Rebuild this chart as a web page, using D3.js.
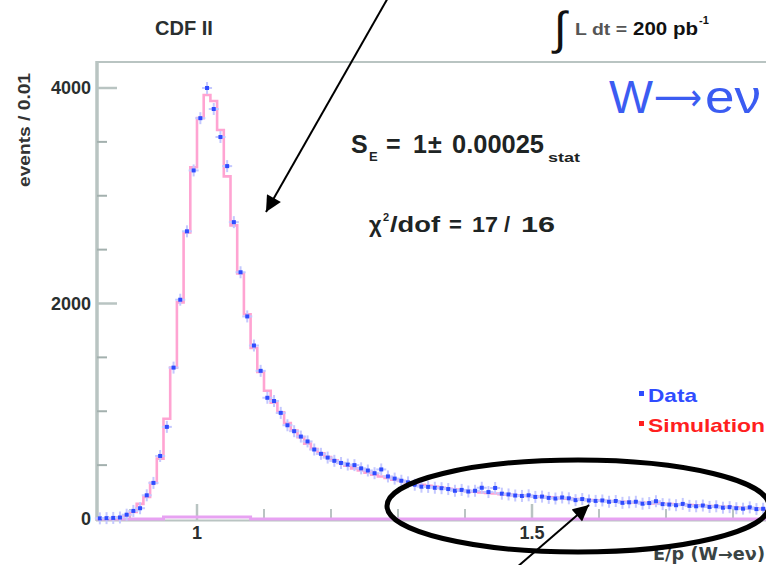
<!DOCTYPE html>
<html><head><meta charset="utf-8">
<script src="https://cdn.jsdelivr.net/npm/d3@7"></script>
<style>body{margin:0;background:#fff}svg{display:block}</style>
</head><body><svg id="c" width="766" height="565"></svg>
<script>
// ---- data ----
const binLow = [0.85,0.86,0.87,0.88,0.89,0.90,0.91,0.92,0.93,0.94,
  0.95,0.96,0.97,0.98,0.99,1.00,1.01,1.02,1.03,1.04,
  1.05,1.06,1.07,1.08,1.09,1.10,1.11,1.12,1.13,1.14,
  1.15,1.16,1.17,1.18,1.19,1.20,1.21,1.22,1.23,1.24,
  1.25,1.26,1.27,1.28,1.29,1.30,1.31,1.32,1.33,1.34,
  1.35,1.36,1.37,1.38,1.39,1.40,1.41,1.42,1.43,1.44,
  1.45,1.46,1.47,1.48,1.49,1.50,1.51,1.52,1.53,1.54,
  1.55,1.56,1.57,1.58,1.59,1.60,1.61,1.62,1.63,1.64,
  1.65,1.66,1.67,1.68,1.69,1.70,1.71,1.72,1.73,1.74,
  1.75,1.76,1.77,1.78,1.79,1.80,1.81,1.82,1.83,1.84];
const binWidth = 0.01;
const dataCounts = [6,8,10,14,40,75,100,220,335,585,
  855,1405,2035,2670,3235,3720,4000,3805,3545,3275,
  2755,2290,1880,1610,1375,1125,1095,985,870,815,
  765,720,645,605,570,540,520,505,500,470,
  450,425,460,395,375,355,340,318,300,298,
  290,286,278,262,270,255,262,290,250,288,
  235,228,218,214,220,205,208,196,190,200,
  192,175,185,172,168,172,160,167,150,155,
  160,142,148,165,138,134,128,140,122,118,
  125,112,118,105,110,100,96,108,92,95];
const simCounts = [5,6,8,14,35,65,140,205,335,560,
  930,1405,2010,2660,3265,3720,3935,3880,3610,3180,
  2725,2280,1900,1587,1365,1190,1080,990,890,820,
  760,700,650,610,575,545,520,495,470,450,
  430,412,395,380,365,352,340,328,317,307,
  298,289,281,273,266,259,253,247,241,236,
  231,226,221,217,213,209,205,201,197,193,
  189,185,181,177,174,170,167,164,160,157,
  154,151,148,145,142,138,135,132,129,126,
  123,120,117,114,111,106,103,100,96,92];
const bkgCounts = [0,0,0,0,0,0,0,0,0,0,
  18,18,18,18,18,18,18,18,18,18,
  18,18,18,0,0,0,0,0,0,0,
  0,0,0,0,0,0,0,0,0,0,
  0,0,0,0,0,0,0,0,0,0,
  0,0,0,0,0,0,0,0,0,0,
  0,0,0,0,0,0,0,0,0,0,
  0,0,0,0,0,0,0,0,0,0,
  0,0,0,0,0,0,0,0,0,0,
  0,0,0,0,0,0,0,0,0,0];
const yTicksMajor = [0, 2000, 4000];
const yTickLabels = ["0", "2000", "4000"];
const yTicksMinor = [500, 1000, 1500, 2500, 3000, 3500];
const xTicksMajor = [1, 1.5];
const xTickLabels = ["1", "1.5"];
const xTicksMinor = [0.9, 1.1, 1.2, 1.3, 1.4, 1.6, 1.7, 1.8];
const legendItems = ["Data", "Simulation"];

// ---- drawing ----
const svg = d3.select("#c");
const FONT = "'Liberation Sans', Arial, sans-serif";
const x = d3.scaleLinear().domain([0.85, 1.85]).range([96.5, 766.5]);
const y = d3.scaleLinear().domain([0, 4000]).range([519, 88]);
const axisCol = "#b9c4c2";

function txt(xp, yp, s, size, opts = {}) {
  const t = svg.append("text").attr("x", xp).attr("y", yp)
    .attr("font-family", opts.family || FONT)
    .attr("font-weight", opts.weight || "bold")
    .attr("font-size", size).attr("fill", opts.fill || "#1e2424");
  if (opts.anchor) t.attr("text-anchor", opts.anchor);
  if (opts.len) t.attr("textLength", opts.len).attr("lengthAdjust", "spacingAndGlyphs");
  t.text(s);
  return t;
}

// frame
svg.append("line").attr("x1", 96).attr("x2", 766).attr("y1", 62).attr("y2", 62)
  .attr("stroke", axisCol).attr("stroke-width", 2);
svg.append("line").attr("x1", 97).attr("x2", 97).attr("y1", 61).attr("y2", 521)
  .attr("stroke", axisCol).attr("stroke-width", 3.5);
svg.append("line").attr("x1", 96).attr("x2", 766).attr("y1", 520.5).attr("y2", 520.5)
  .attr("stroke", axisCol).attr("stroke-width", 2);

// y ticks
yTicksMajor.forEach(v => svg.append("line").attr("x1", 97).attr("x2", 117)
  .attr("y1", y(v)).attr("y2", y(v)).attr("stroke", axisCol).attr("stroke-width", 2.5));
yTicksMinor.forEach(v => svg.append("line").attr("x1", 97).attr("x2", 107)
  .attr("y1", y(v)).attr("y2", y(v)).attr("stroke", "#a3b0ae").attr("stroke-width", 2));
yTicksMajor.forEach((v, i) => txt(91, y(v) + 6, yTickLabels[i], 18, {anchor: "end", fill: "#2a2f2f"}));
// x ticks
xTicksMajor.forEach(v => svg.append("line").attr("x1", x(v)).attr("x2", x(v))
  .attr("y1", 504).attr("y2", 520).attr("stroke", axisCol).attr("stroke-width", 2.5));
xTicksMinor.forEach(v => svg.append("line").attr("x1", x(v)).attr("x2", x(v))
  .attr("y1", 509).attr("y2", 520).attr("stroke", axisCol).attr("stroke-width", 2));
xTicksMajor.forEach((v, i) => txt(x(v), 539, xTickLabels[i], 18, {anchor: "middle", fill: "#2a2f2f"}));

// axis titles
svg.append("text").attr("transform", "translate(30,73) rotate(-90)")
  .attr("text-anchor", "end").attr("font-family", FONT).attr("font-weight", "bold")
  .attr("font-size", 16).attr("fill", "#333").attr("textLength", 114)
  .attr("lengthAdjust", "spacingAndGlyphs").text("events / 0.01");
txt(653, 560, "E/p (W\u2192e\u03bd)", 17, {fill: "#3a4444", len: 112, family: "'DejaVu Sans', sans-serif"});

// histogram helpers
const stepPts = counts => {
  const pts = binLow.map((b, i) => [b, counts[i]]);
  pts.push([binLow[binLow.length - 1] + binWidth, counts[counts.length - 1]]);
  return pts;
};
const stepLine = d3.line().x(d => x(d[0])).y(d => y(d[1])).curve(d3.curveStepAfter);

// background component
svg.append("path").attr("d", stepLine(stepPts(bkgCounts))).attr("fill", "none")
  .attr("stroke", "#e7a2f2").attr("stroke-width", 3);

// simulation
svg.append("path").attr("d", stepLine(stepPts(simCounts))).attr("fill", "none")
  .attr("stroke", "#ffa4d2").attr("stroke-width", 2.6);

// data points
const pts = svg.append("g");
binLow.forEach((b, i) => {
  const cx = x(b + binWidth / 2), cy = y(dataCounts[i]);
  pts.append("line").attr("x1", cx - 5).attr("x2", cx + 5).attr("y1", cy).attr("y2", cy)
    .attr("stroke", "#c4c8ff").attr("stroke-width", 2);
  pts.append("line").attr("x1", cx).attr("x2", cx).attr("y1", cy - 6).attr("y2", cy + 6)
    .attr("stroke", "#c4c8ff").attr("stroke-width", 2);
  pts.append("rect").attr("x", cx - 2).attr("y", cy - 2).attr("width", 4).attr("height", 4)
    .attr("fill", "#2f4cff");
});

// header texts
txt(155, 35, "CDF II", 20, {fill: "#2a2f2f"});
txt(554, 44, "\u222b", 46, {weight: "normal", fill: "#111"});
txt(575, 35, "L dt =", 16, {fill: "#555", len: 52});
txt(633, 35, "200 pb", 18, {fill: "#111", len: 65});
txt(699, 24, "-1", 11, {fill: "#111"});

txt(609, 113, "W", 46, {weight: "normal", fill: "#3b5cf2", len: 44});
txt(654, 110, "\u27f6", 38, {weight: "normal", fill: "#3b5cf2", len: 48, family: "'DejaVu Sans', sans-serif"});
txt(705, 113, "e\u03bd", 46, {weight: "normal", fill: "#3b5cf2", len: 56});

// S_E
txt(351, 153, "S", 25);
txt(369, 161, "E", 13);
txt(386, 153, "=", 25);
txt(413, 153, "1", 25);
txt(428, 153, "\u00b1", 25);
txt(452, 153, "0.00025", 25, {len: 92});
txt(548, 162, "stat", 13, {len: 32});

// chi2
txt(369, 232, "\u03c7", 22);
txt(383, 221, "2", 11);
txt(390, 232, "/dof", 22, {len: 50});
txt(449, 232, "=", 22);
txt(472, 232, "17", 22, {len: 26});
txt(504, 232, "/", 22);
txt(521, 232, "16", 22, {len: 34});

// legend
const legCols = ["#2f4cff", "#ff1f1f"];
legendItems.forEach((t, i) => {
  const ly = 394 + i * 30;
  svg.append("rect").attr("x", 639).attr("y", ly - 3).attr("width", 5).attr("height", 5)
    .attr("fill", legCols[i]);
  txt(648, ly + 8, t, 19, {fill: legCols[i], len: i === 0 ? 49 : 117});
});

// annotations: ellipse and arrows
svg.append("ellipse").attr("cx", 578).attr("cy", 506).attr("rx", 191).attr("ry", 46)
  .attr("fill", "none").attr("stroke", "#000").attr("stroke-width", 5);
const defs = svg.append("defs");
defs.append("marker").attr("id", "ah").attr("viewBox", "0 0 10 10").attr("refX", 10).attr("refY", 5)
  .attr("markerWidth", 9).attr("markerHeight", 8).attr("markerUnits", "strokeWidth")
  .attr("orient", "auto").append("path").attr("d", "M0,0 L10,5 L0,10 z").attr("fill", "#000");
svg.append("line").attr("x1", 389).attr("y1", -4).attr("x2", 266).attr("y2", 212)
  .attr("stroke", "#000").attr("stroke-width", 2).attr("marker-end", "url(#ah)");
svg.append("line").attr("x1", 516).attr("y1", 568).attr("x2", 589).attr("y2", 505)
  .attr("stroke", "#000").attr("stroke-width", 2).attr("marker-end", "url(#ah)");
</script></body></html>
